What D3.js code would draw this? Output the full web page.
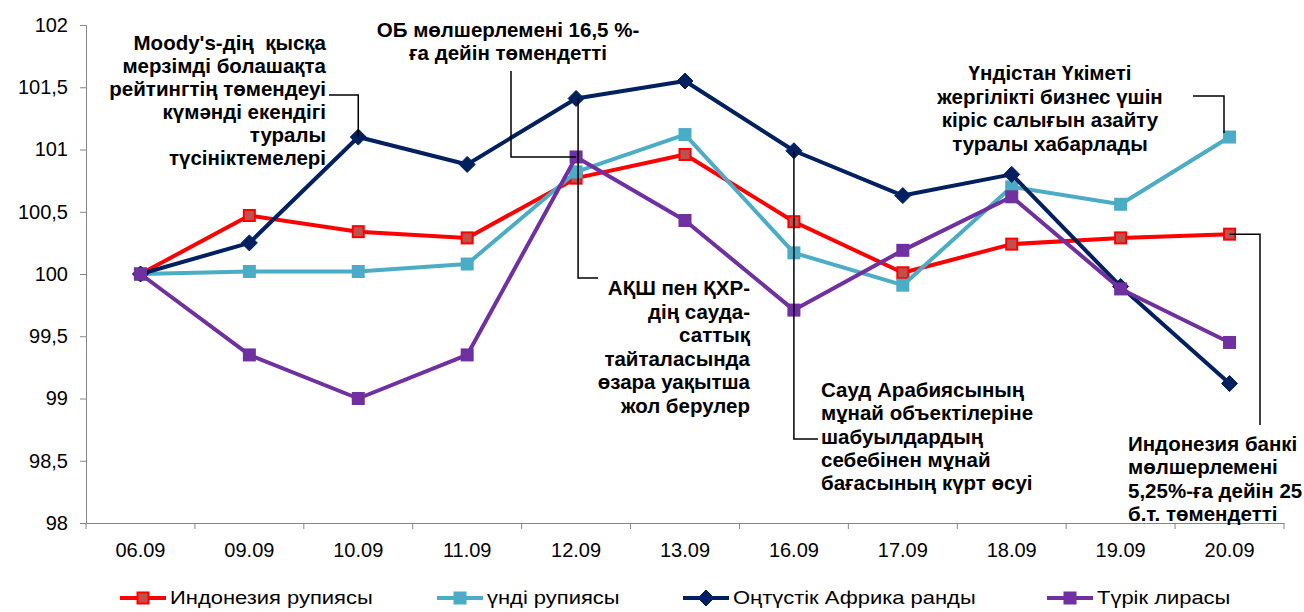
<!DOCTYPE html>
<html>
<head>
<meta charset="utf-8">
<script src="https://cdn.jsdelivr.net/npm/d3@7"></script>
<style>
  body { margin: 0; background: #fff; }
  text { font-family: "Liberation Sans", Arial, sans-serif; }
</style>
</head>
<body>
<div class="chart"></div>
<script>
// data
var categories = ["06.09", "09.09", "10.09", "11.09", "12.09", "13.09", "16.09", "17.09", "18.09", "19.09", "20.09"];
var idrValues = [100, 100.47, 100.34, 100.29, 100.77, 100.96, 100.42, 100.01, 100.24, 100.29, 100.32];
var inrValues = [100, 100.02, 100.02, 100.08, 100.82, 101.12, 100.17, 99.91, 100.70, 100.56, 101.10];
var zarValues = [100, 100.25, 101.10, 100.88, 101.41, 101.55, 100.99, 100.63, 100.80, 99.90, 99.12];
var tryValues = [100, 99.35, 99.00, 99.35, 100.94, 100.43, 99.71, 100.19, 100.62, 99.88, 99.45];
var seriesNames = ["Индонезия рупиясы", "үнді рупиясы", "Оңтүстік Африка ранды", "Түрік лирасы"];
var yTicks = [98, 98.5, 99, 99.5, 100, 100.5, 101, 101.5, 102];

var WIDTH = 1304, HEIGHT = 612;
var margin = { top: 25, right: 20, bottom: 89, left: 86 };

var series = [
    { name: seriesNames[0], values: idrValues, color: "#FF0000", marker: "square", fill: "#C0504D" },
    { name: seriesNames[1], values: inrValues, color: "#4BACC6", marker: "square", fill: "#4BACC6" },
    { name: seriesNames[2], values: zarValues, color: "#002060", marker: "diamond", fill: "#002060" },
    { name: seriesNames[3], values: tryValues, color: "#7030A0", marker: "square", fill: "#7030A0" }
];

var xScale = d3.scaleBand()
    .domain(categories)
    .range([margin.left, WIDTH - margin.right]);
var xc = function (c) { return xScale(c) + xScale.bandwidth() / 2; };

var yScale = d3.scaleLinear()
    .domain([98, 102])
    .range([HEIGHT - margin.bottom, margin.top]);

var svg = d3.select('.chart').append("svg")
    .attr('width', WIDTH)
    .attr('height', HEIGHT);

// axes
var yAxis = svg.append("g")
    .attr("transform", "translate(" + margin.left + ",0)")
    .call(d3.axisLeft(yScale).tickValues(yTicks).tickSize(6).tickPadding(12)
        .tickFormat(function (d) { return String(d).replace(".", ","); }));
yAxis.select(".domain").attr("stroke", "#868686");
yAxis.selectAll(".tick line").attr("stroke", "#868686");
yAxis.selectAll("text").style("font-size", "20px").attr("fill", "#000");

var xAxis = svg.append("g")
    .attr("transform", "translate(0," + (HEIGHT - margin.bottom) + ")")
    .call(d3.axisBottom(xScale).tickSize(0).tickPadding(20).tickSizeOuter(0));
xAxis.select(".domain").attr("stroke", "#868686");
xAxis.selectAll("text").style("font-size", "20px").attr("fill", "#000");
// boundary ticks between categories
xAxis.selectAll("line.bound")
    .data(categories.concat(["end"]))
    .enter().append("line")
    .attr("class", "bound")
    .attr("x1", function (d, i) { return i < categories.length ? xScale(d) : WIDTH - margin.right; })
    .attr("x2", function (d, i) { return i < categories.length ? xScale(d) : WIDTH - margin.right; })
    .attr("y1", 0).attr("y2", 6)
    .attr("stroke", "#868686");

// marker helper
function drawMarker(g, type, x, y, fill, stroke) {
    if (type === "diamond") {
        g.append("path")
            .attr("d", "M" + x + "," + (y - 8) + "L" + (x + 8) + "," + y + "L" + x + "," + (y + 8) + "L" + (x - 8) + "," + y + "Z")
            .attr("fill", fill).attr("stroke", stroke).attr("stroke-width", 1);
    } else {
        g.append("rect")
            .attr("x", x - 5.5).attr("y", y - 5.5)
            .attr("width", 11).attr("height", 11)
            .attr("fill", fill).attr("stroke", stroke).attr("stroke-width", 2);
    }
}

// lines
var line = d3.line()
    .x(function (d, i) { return xc(categories[i]); })
    .y(function (d) { return yScale(d); });

series.forEach(function (s) {
    var g = svg.append("g");
    g.append("path")
        .datum(s.values)
        .attr("d", line)
        .attr("fill", "none")
        .attr("stroke", s.color)
        .attr("stroke-width", 4)
        .attr("stroke-linejoin", "round");
    s.values.forEach(function (v, i) {
        drawMarker(g, s.marker, xc(categories[i]), yScale(v), s.fill, s.color);
    });
});

// annotations
var notes = svg.append("g")
    .style("font-size", "20.5px")
    .style("font-weight", "bold")
    .attr("fill", "#000");

function noteText(lines, x, y0, anchor, step) {
    lines.forEach(function (t, i) {
        notes.append("text")
            .attr("x", x).attr("y", y0 + i * step)
            .attr("dy", "0.35em")
            .attr("text-anchor", anchor)
            .text(t);
    });
}

function connector(points) {
    svg.append("path")
        .attr("d", d3.line()(points))
        .attr("fill", "none")
        .attr("stroke", "#000")
        .attr("stroke-width", 1.5);
}

noteText(["Moody's-дің\u00A0 қысқа", "мерзімді болашақта", "рейтингтің төмендеуі", "күмәнді екендігі", "туралы", "түсініктемелері"], 326, 43, "end", 23);
connector([[329, 95], [xc("10.09"), 95], [xc("10.09"), yScale(zarValues[2])]]);

noteText(["ОБ мөлшерлемені 16,5 %-", "ға дейін төмендетті"], 508, 29.5, "middle", 23.5);
connector([[511, 71], [511, yScale(tryValues[4])], [xc("12.09"), yScale(tryValues[4])]]);

noteText(["АҚШ пен ҚХР-", "дің сауда-", "саттық", "тайталасында", "өзара уақытша", "жол берулер"], 750, 288, "end", 23.5);
connector([[xc("12.09") + 2, yScale(zarValues[4])], [xc("12.09") + 2, 278], [598, 278]]);

noteText(["Сауд Арабиясының", "мұнай объектілеріне", "шабуылдардың", "себебінен мұнай", "бағасының күрт өсуі"], 821, 390, "start", 23.2);
connector([[xc("16.09"), yScale(zarValues[6])], [xc("16.09"), 439], [818, 439]]);

noteText(["Үндістан Үкіметі", "жергілікті бизнес үшін", "кіріс салығын азайту", "туралы хабарлады"], 1050, 73, "middle", 23.5);
connector([[1193, 96], [1224, 96], [1224, yScale(inrValues[10]) - 4]]);

noteText(["Индонезия банкі", "мөлшерлемені", "5,25%-ға дейін 25", "б.т. төмендетті"], 1128, 444, "start", 23.2);
connector([[xc("20.09"), yScale(idrValues[10])], [1260, yScale(idrValues[10])], [1260, 425]]);

// legend
var legendPos = [143, 460, 706, 1070];
var legend = svg.append("g").attr("transform", "translate(0,598)");
series.forEach(function (s, i) {
    var cx = legendPos[i];
    legend.append("line")
        .attr("x1", cx - 23).attr("x2", cx + 23)
        .attr("y1", 0).attr("y2", 0)
        .attr("stroke", s.color).attr("stroke-width", 4);
    drawMarker(legend, s.marker, cx, 0, s.fill, s.color);
    legend.append("text")
        .attr("transform", "translate(" + (cx + 27) + ",0) scale(1.22,1)")
        .attr("dy", "0.35em")
        .style("font-size", "18px")
        .attr("fill", "#000")
        .text(s.name);
});
</script>
</body>
</html>
